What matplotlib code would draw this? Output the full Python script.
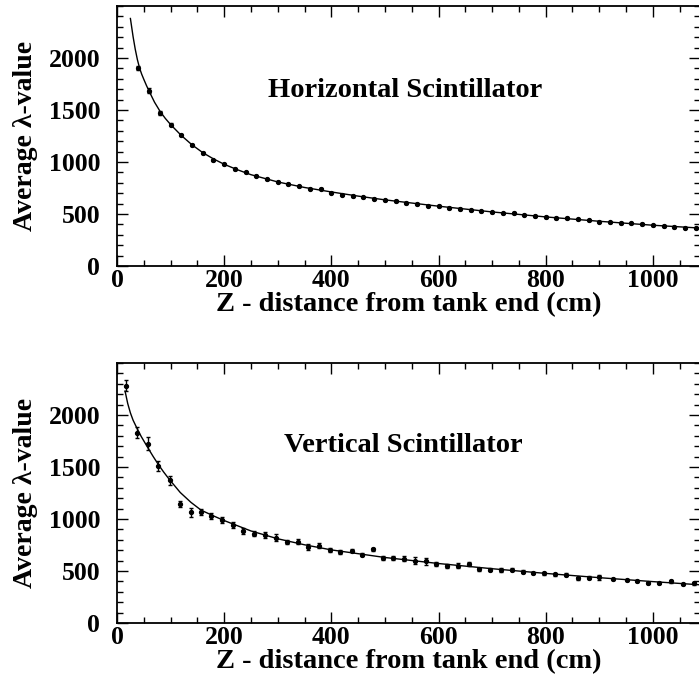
import matplotlib
matplotlib.use("Agg")
import matplotlib.pyplot as plt
from matplotlib.ticker import MultipleLocator, FixedLocator

plt.rcParams['font.family'] = ['Liberation Serif', 'DejaVu Serif']
plt.rcParams['font.weight'] = 'bold'

# horizontal scintillator: measured points
h_z = [40, 60, 80, 100, 120, 140, 160, 180, 200, 220, 240, 260, 280, 300, 320,
       340, 360, 380, 400, 420, 440, 460, 480, 500, 520, 540, 560, 580, 600,
       620, 640, 660, 680, 700, 720, 740, 760, 780, 800, 820, 840, 860, 880,
       900, 920, 940, 960, 980, 1000, 1020, 1040, 1060, 1080]
h_lam = [1904, 1685, 1474, 1359, 1260, 1166, 1086, 1016, 978, 933, 901, 868,
         833, 811, 788, 766, 743, 743, 705, 686, 673, 661, 647, 631, 625, 606,
         596, 580, 577, 558, 548, 535, 526, 516, 507, 510, 495, 481, 471, 462,
         462, 449, 439, 426, 420, 413, 410, 404, 391, 385, 375, 368, 365]
h_err = [22, 22, 18, 12, 10, 8, 8, 8, 7, 7, 6, 6, 6, 6, 6, 6, 6, 6, 6, 6, 6,
         6, 6, 6, 6, 6, 6, 6, 6, 6, 6, 6, 6, 6, 6, 6, 6, 6, 6, 6, 6, 6, 6, 6,
         6, 6, 6, 6, 6, 6, 6, 6, 6]

# horizontal fit curve
h_fit_z = [25, 30, 34, 38, 42, 46, 50, 55, 60, 70, 80, 90, 100, 120, 140, 160,
           180, 200, 225, 250, 300, 350, 400, 450, 500, 600, 700, 800, 900,
           1000, 1100]
h_fit = [2380, 2205, 2085, 1985, 1905, 1845, 1795, 1735, 1680, 1575, 1490,
         1420, 1360, 1255, 1165, 1090, 1030, 978, 925, 878, 808, 755, 712, 672,
         636, 575, 520, 472, 430, 392, 361]

# vertical scintillator: measured points
v_z = [17, 37, 57, 77, 98, 118, 138, 156, 176, 196, 216, 236, 256, 277, 297,
       317, 337, 356, 377, 397, 417, 438, 458, 477, 496, 515, 535, 556, 576,
       596, 616, 636, 656, 676, 696, 717, 737, 757, 777, 797, 817, 838, 860,
       880, 900, 925, 951, 970, 991, 1012, 1034, 1056, 1077]
v_lam = [2282, 1830, 1726, 1513, 1373, 1143, 1063, 1069, 1027, 988, 942, 884,
         857, 847, 822, 776, 781, 731, 744, 705, 683, 696, 657, 708, 626, 628,
         618, 600, 592, 568, 552, 552, 567, 517, 512, 510, 513, 494, 481, 476,
         467, 464, 430, 436, 438, 422, 412, 404, 383, 383, 402, 377, 381]
v_err = [55, 55, 60, 48, 42, 32, 40, 30, 30, 28, 32, 30, 25, 25, 30, 18, 22,
         25, 25, 20, 15, 15, 15, 15, 18, 20, 25, 35, 30, 20, 20, 25, 15, 15,
         15, 20, 12, 12, 12, 12, 12, 15, 15, 12, 20, 12, 12, 12, 10, 10, 15,
         12, 15]

# vertical fit curve
v_fit_z = [15, 20, 25, 30, 37, 45, 57, 67, 77, 87, 97, 118, 138, 157, 180, 200,
           250, 300, 350, 400, 500, 600, 700, 800, 900, 1000, 1100]
v_fit = [2230, 2110, 2020, 1950, 1875, 1795, 1690, 1605, 1525, 1452, 1385,
         1255, 1160, 1085, 1030, 985, 885, 810, 752, 703, 630, 572, 522, 477,
         436, 398, 363]

fig = plt.figure(figsize=(6.99, 6.90), dpi=100)
ax_h = fig.add_axes([0.1674, 0.6145, 0.8340, 0.3768])
ax_v = fig.add_axes([0.1674, 0.0971, 0.8340, 0.3768])

panels = [(ax_h, h_z, h_lam, h_err, h_fit_z, h_fit, "Horizontal Scintillator", 0.494, 0.650),
          (ax_v, v_z, v_lam, v_err, v_fit_z, v_fit, "Vertical Scintillator", 0.4905, 0.659)]

for ax, z, lam, err, fz, fl, name, tx, ty in panels:
    ax.plot(fz, fl, color='black', lw=1.0)
    ax.errorbar(z, lam, yerr=err, fmt='o', color='black', ms=2.8,
                elinewidth=1.0, capsize=1.6, capthick=1.0)
    ax.set_xlim(0, 1088)
    ax.set_ylim(0, 2500)
    ax.xaxis.set_major_locator(MultipleLocator(200))
    ax.xaxis.set_minor_locator(MultipleLocator(50))
    ax.yaxis.set_major_locator(FixedLocator([0, 500, 1000, 1500, 2000]))
    ax.yaxis.set_minor_locator(MultipleLocator(100))
    ax.tick_params(which='both', direction='in', top=True, right=True,
                   width=1.0, labelsize=18.5)
    ax.tick_params(axis='x', pad=2)
    ax.tick_params(axis='y', pad=12)
    ax.tick_params(which='major', length=8)
    ax.tick_params(which='minor', length=4)
    for s in ax.spines.values():
        s.set_linewidth(1.3)
    ax.set_xlabel("Z - distance from tank end (cm)", fontsize=20.5,
                  fontweight='bold', labelpad=0)
    ax.set_ylabel("Average \u03bb-value", fontsize=20, fontweight='bold',
                  labelpad=8)
    ax.text(tx, ty, name, transform=ax.transAxes, ha='center', va='baseline',
            fontsize=20.5, fontweight='bold')

fig.savefig("out.png", dpi=100)
